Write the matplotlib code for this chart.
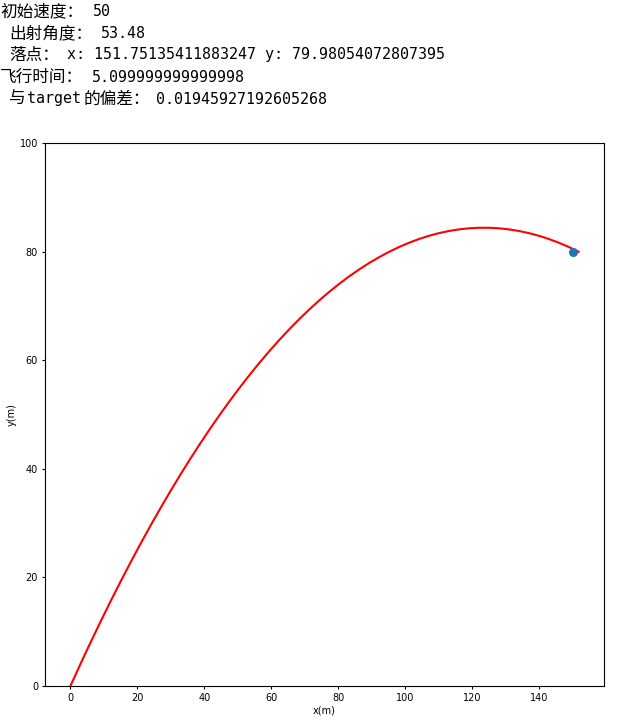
import matplotlib
matplotlib.use("Agg")
import matplotlib.pyplot as plt

# Printed header pieces: (text, x px, line index, is_cjk)
header_pieces = [
    ("初始速度：", 0, 0, True), ("50", 93, 0, False),
    ("出射角度：", 9, 1, True), ("53.48", 101, 1, False),
    ("落点：", 9, 2, True), ("x: 151.75135411883247 y: 79.98054072807395", 67, 2, False),
    ("飞行时间：", 0, 3, True), ("5.099999999999998", 92, 3, False),
    ("与", 8, 4, True), ("target", 27, 4, False), ("的偏差：", 84, 4, True),
    ("0.01945927192605268", 156, 4, False),
]
line_y = [12, 33.5, 55, 77, 99]

# Trajectory points
traj_x = [0.0, 2.976, 5.951, 8.927, 11.902, 14.878, 17.853, 20.829, 23.804, 26.780,
          29.755, 32.731, 35.706, 38.682, 41.657, 44.633, 47.608, 50.584, 53.559, 56.535,
          59.510, 62.486, 65.461, 68.437, 71.412, 74.388, 77.363, 80.339, 83.314, 86.290,
          89.266, 92.241, 95.217, 98.192, 101.168, 104.143, 107.119, 110.094, 113.070, 116.045,
          119.021, 121.996, 124.972, 127.947, 130.923, 133.898, 136.874, 139.849, 142.825, 145.800,
          148.776, 151.751]
traj_y = [0.0, 4.018, 7.938, 11.761, 15.485, 19.111, 22.639, 26.070, 29.402, 32.636,
          35.772, 38.811, 41.751, 44.593, 47.337, 49.984, 52.532, 54.982, 57.334, 59.589,
          61.745, 63.803, 65.763, 67.626, 69.390, 71.056, 72.624, 74.094, 75.467, 76.741,
          77.917, 78.995, 79.976, 80.858, 81.642, 82.328, 82.917, 83.407, 83.799, 84.093,
          84.290, 84.388, 84.388, 84.290, 84.095, 83.801, 83.409, 82.919, 82.332, 81.646,
          80.862, 79.980]

target_x = [150]
target_y = [80]

W, H = 621, 724
fig = plt.figure(figsize=(W / 100, H / 100), dpi=100)

for txt, px, li, cjk in header_pieces:
    if cjk:
        fig.text(px / W, 1 - line_y[li] / H, txt, family=["Noto Sans CJK SC", "DejaVu Sans"],
                 fontsize=12, va="center", ha="left")
    else:
        fig.text(px / W, 1 - line_y[li] / H, txt, family=["DejaVu Sans Mono", "Noto Sans CJK SC"],
                 fontsize=10.8, va="center", ha="left")

ax = fig.add_axes([45 / W, (H - 686) / H, (604 - 45) / W, (686 - 143) / H])
ax.plot(traj_x, traj_y, color="red", linewidth=1.5)
ax.scatter(target_x, target_y, s=30, color="#1f77b4", zorder=3)
ax.set_ylim(0, 100)
ax.set_xlabel("x(m)", fontsize=7, labelpad=2)
ax.set_ylabel("y(m)", fontsize=7, labelpad=2)
ax.tick_params(labelsize=7, length=2.5, width=0.8, pad=2.5)
for s in ax.spines.values():
    s.set_linewidth(0.8)

fig.savefig("out.png", dpi=100)
